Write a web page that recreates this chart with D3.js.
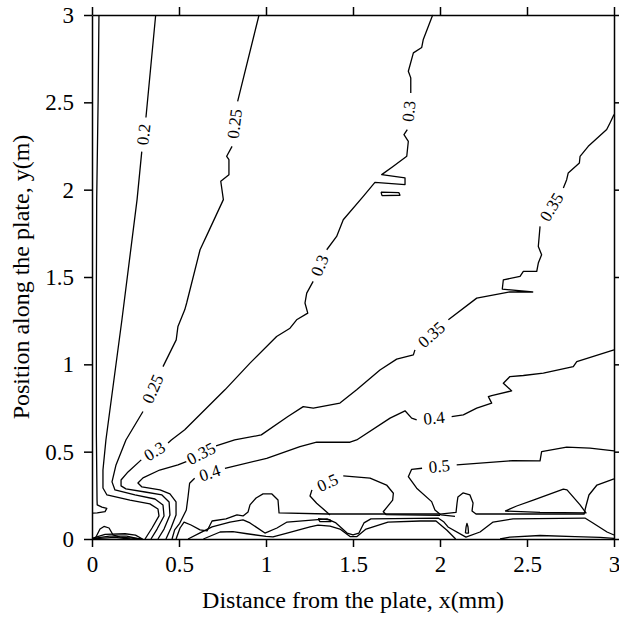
<!DOCTYPE html>
<html>
<head>
<meta charset="utf-8">
<script src="https://cdn.jsdelivr.net/npm/d3@7"></script>
<style>
    body { margin: 0; background: #fff; }
    text { font-family: "Liberation Serif", "Times New Roman", serif; }
</style>
</head>
<body>
<div id="chart"></div>
<script>
// axis ticks
const xTicks = [0, 0.5, 1, 1.5, 2, 2.5, 3];
const yTicks = [0, 0.5, 1, 1.5, 2, 2.5, 3];

// contour lines as [x (mm), y (m)]
// a null marks the gap where the line's label sits
const wallLine = [[0.040,3.0],[0.035,2.5],[0.027,1.95],[0.025,1.4],[0.025,0.6],[0.029,0.22],[0.030,0.195],[0.057,0.183],[0.085,0.175],[0.075,0.157],[0.030,0.150],[0,0.148]];

const c020 = [[0.366,3.0],[0.310,2.413],null,[0.286,2.218],[0.259,1.943],[0.172,1.255],[0.080,0.567],[0.063,0.395],[0.063,0.292],[0.086,0.252],[0.218,0.223],[0.333,0.201],[0.379,0.172],[0.385,0.132],[0.345,0.063],[0.305,0]];

const c025 = [[0.960,3.0],[0.837,2.506],null,[0.805,2.248],[0.774,2.191],[0.787,2.172],[0.787,2.086],[0.740,2.048],[0.755,1.943],[0.667,1.754],[0.621,1.656],[0.544,1.351],[0.533,1.312],[0.494,1.217],[0.484,1.140],[0.408,0.987],null,[0.293,0.730],[0.195,0.567],[0.138,0.424],[0.115,0.327],[0.132,0.281],[0.247,0.252],[0.362,0.229],[0.408,0.195],[0.414,0.132],[0.374,0.057],[0.339,0]];

const c030 = [[1.958,3.0],[1.904,2.860],[1.895,2.814],[1.847,2.783],[1.818,2.678],[1.832,2.640],[1.832,2.554],null,[1.812,2.344],[1.793,2.315],[1.818,2.277],[1.809,2.191],[1.732,2.134],[1.665,2.086],[1.799,2.067],[1.799,2.029],[1.626,2.042],[1.559,1.962],[1.444,1.828],[1.406,1.732],[1.349,1.656],null,[1.271,1.475],[1.234,1.408],[1.224,1.351],[1.240,1.293],[1.176,1.255],[1.138,1.207],[1.061,1.159],[0.908,1.007],[0.764,0.854],[0.533,0.625],[0.456,0.567],[0.437,0.550],null,[0.283,0.453],[0.207,0.384],[0.167,0.338],[0.167,0.304],[0.195,0.287],[0.305,0.269],[0.402,0.252],[0.443,0.212],[0.448,0.138],[0.414,0.057],[0.379,0]];

const c035 = [[3.0,2.430],[2.977,2.382],[2.958,2.344],[2.852,2.248],[2.805,2.191],[2.801,2.153],[2.737,2.096],[2.728,2.057],[2.709,2.010],null,[2.575,1.790],[2.565,1.675],[2.584,1.628],[2.565,1.580],[2.556,1.532],[2.479,1.532],[2.460,1.503],[2.364,1.484],[2.358,1.431],[2.533,1.414],[2.402,1.415],[2.211,1.379],[2.048,1.255],null,[1.856,1.083],[1.847,1.054],[1.751,1.030],[1.655,0.968],[1.521,0.854],[1.425,0.778],[1.272,0.749],[1.214,0.758],[1.126,0.701],[0.973,0.596],[0.820,0.567],[0.713,0.533],null,[0.542,0.443],[0.494,0.424],[0.389,0.395],[0.293,0.350],[0.264,0.321],[0.287,0.298],[0.391,0.281],[0.448,0.258],[0.483,0.212],[0.483,0.138],[0.454,0.063],[0.425,0]];

const c040 = [[3.0,1.083],[2.786,1.016],[2.766,0.987],[2.594,0.950],[2.479,0.936],[2.402,0.930],[2.364,0.892],[2.412,0.848],[2.297,0.821],[2.278,0.815],[2.297,0.778],[2.211,0.749],[2.134,0.711],[2.067,0.701],null,[1.866,0.682],[1.837,0.692],[1.799,0.734],[1.713,0.692],[1.521,0.567],[1.483,0.554],[1.291,0.554],[1.195,0.529],[1.004,0.462],[0.764,0.405],null,[0.590,0.348],[0.561,0.319],[0.552,0.242],[0.542,0.166],[0.504,0.090],[0.475,0.052],[0.460,0]];

const lobeLeft = [[1.368,0.138],[1.291,0.205],[1.253,0.246],[1.264,0.281],null,[1.444,0.361],[1.598,0.348],[1.693,0.309],[1.732,0.262],[1.728,0.223],[1.674,0.156],[1.690,0.140],[2.0,0.135]];

const lobeRight = [[3.0,0.504],[2.862,0.520],[2.728,0.526],[2.584,0.500],[2.575,0.447],[2.421,0.449],[2.096,0.424],null,[1.897,0.405],[1.837,0.399],[1.818,0.357],[1.866,0.291],[1.952,0.214],[1.971,0.166],[2.006,0.138],[2.086,0.129]];

// unlabelled lines near the plate bottom
const bandUpper = [[0.483,0],[0.506,0.063],[0.529,0.097],[0.569,0.080],[0.621,0.052],[0.661,0.046],[0.690,0.103],[0.770,0.115],[0.833,0.138],[0.868,0.132],[0.897,0.155],[0.908,0.195],[0.943,0.235],[0.983,0.258],[1.034,0.258],[1.069,0.223],[1.075,0.149],[1.356,0.143],[2.0,0.143],[2.092,0.152],[2.098,0.206],[2.103,0.241],[2.132,0.264],[2.172,0.252],[2.190,0.206],[2.184,0.160],[2.207,0.143],[2.828,0.143],[2.839,0.189],[2.856,0.252],[2.902,0.309],[3.0,0.344]];

const bandLower = [[0.552,0],[0.621,0.035],[0.690,0.069],[0.793,0.097],[0.868,0.109],[0.908,0.092],[0.994,0.034],[1.063,0.063],[1.121,0.097],[1.351,0.115],[1.402,0.092],[1.466,0.034],[1.5,0.023],[1.534,0.034],[1.563,0.092],[1.603,0.115],[1.989,0.120],[2.023,0.097],[2.046,0.069],[2.149,0.011],[2.230,0.040],[2.305,0.097],[2.420,0.115],[2.833,0.120],[2.879,0.092],[2.960,0.040],[3.0,0.023]];

const bandValley = [[0.64,0],[0.736,0.040],[0.810,0.042],[0.891,0.030],[1.0,0.015],[1.040,0.012],[1.121,0.034],[1.253,0.069],[1.299,0.080],[1.368,0.074],[1.425,0.057],[1.483,0.014],[1.523,0.014],[1.575,0.057],[1.701,0.097],[1.885,0.103],[1.977,0.103],[2.04,0.05],[2.09,0]];

const bottomRight = [[2.345,0],[2.402,0.011],[2.575,0.020],[2.776,0.014],[2.920,0.009],[3.0,0.003]];

const hump = [[0.017,0],[0.046,0.057],[0.069,0.072],[0.098,0.063],[0.121,0.023],[0.161,0.011],[0.29,0]];
const wedge1 = [[0,0.004],[0.075,0.026],[0.19,0.030],[0.25,0.022],[0.29,0]];
const wedge2 = [[0,0.002],[0.10,0.017],[0.20,0.017],[0.27,0]];
const wedge3 = [[0,0.001],[0.13,0.009],[0.22,0]];

// small closed loops
const triangleLoop = [[2.374,0.160],[2.441,0.189],[2.536,0.223],[2.709,0.285],[2.730,0.281],[2.805,0.195],[2.839,0.149],[2.575,0.152],[2.374,0.160]];
const teardrop = [[2.146,0.034],[2.150,0.069],[2.155,0.089],[2.161,0.069],[2.164,0.034],[2.146,0.034]];
const sliver = [[1.299,0.117],[1.368,0.109],[1.374,0.100],[1.310,0.100],[1.299,0.117]];
const island = [[1.661,1.986],[1.764,1.983],[1.770,1.968],[1.667,1.966],[1.661,1.986]];

const contours = [
    {label: "0.2", points: c020},
    {label: "0.25", points: c025},
    {label: "0.3", points: c030},
    {label: "0.35", points: c035},
    {label: "0.4", points: c040},
    {label: "0.5", points: lobeLeft},
    {label: "0.5", points: lobeRight},
    {label: null, points: wallLine},
    {label: null, points: bandUpper},
    {label: null, points: bandLower},
    {label: null, points: bandValley},
    {label: null, points: bottomRight},
    {label: null, points: hump},
    {label: null, points: wedge1},
    {label: null, points: wedge2},
    {label: null, points: wedge3},
    {label: null, points: triangleLoop},
    {label: null, points: teardrop},
    {label: null, points: sliver},
    {label: null, points: island}
];

function drawChart() {
    const width = 619, height = 620;
    const left = 92, right = 614, top = 15, bottom = 539;

    const svg = d3.select("#chart")
        .append("svg")
        .attr("width", width)
        .attr("height", height);

    const x = d3.scaleLinear().domain([0, 3]).range([left, right]);
    const y = d3.scaleLinear().domain([0, 3]).range([bottom, top]);

    const line = d3.line()
        .defined(d => d !== null)
        .x(d => x(d[0]))
        .y(d => y(d[1]));

    // contour lines
    svg.append("g")
        .selectAll("path")
        .data(contours)
        .join("path")
        .attr("d", d => line(d.points))
        .attr("fill", "none")
        .attr("stroke", "#000")
        .attr("stroke-width", 1.3)
        .attr("stroke-linejoin", "round");

    // labels go in the gaps, turned along the line
    const labels = [];
    contours.forEach(c => {
        if (!c.label) return;
        c.points.forEach((p, i) => {
            if (p !== null) return;
            const a = c.points[i - 1], b = c.points[i + 1];
            const ax = x(a[0]), ay = y(a[1]), bx = x(b[0]), by = y(b[1]);
            let ang = Math.atan2(by - ay, bx - ax) * 180 / Math.PI;
            if (ang > 90) ang -= 180;
            if (ang <= -90) ang += 180;
            labels.push({text: c.label, cx: (ax + bx) / 2, cy: (ay + by) / 2, ang: ang});
        });
    });

    svg.append("g")
        .selectAll("text")
        .data(labels)
        .join("text")
        .attr("transform", d => `translate(${d.cx},${d.cy}) rotate(${d.ang})`)
        .attr("text-anchor", "middle")
        .attr("dominant-baseline", "central")
        .attr("font-size", 17)
        .text(d => d.text);

    // axes on all four sides, ticks pointing out
    const fmt = d => String(d);
    svg.append("g")
        .attr("transform", `translate(0,${bottom})`)
        .call(d3.axisBottom(x).tickValues(xTicks).tickFormat(fmt).tickSize(8).tickPadding(9).tickSizeOuter(0));
    svg.append("g")
        .attr("transform", `translate(0,${top})`)
        .call(d3.axisTop(x).tickValues(xTicks).tickFormat("").tickSize(8).tickSizeOuter(0));
    svg.append("g")
        .attr("transform", `translate(${left},0)`)
        .call(d3.axisLeft(y).tickValues(yTicks).tickFormat(fmt).tickSize(8).tickPadding(10).tickSizeOuter(0));
    svg.append("g")
        .attr("transform", `translate(${right},0)`)
        .call(d3.axisRight(y).tickValues(yTicks).tickFormat("").tickSize(8).tickSizeOuter(0));

    svg.selectAll(".domain, .tick line")
        .attr("stroke", "#000")
        .attr("stroke-width", 1.5);
    svg.selectAll(".tick text")
        .attr("font-family", "'Liberation Serif', 'Times New Roman', serif")
        .attr("font-size", 23)
        .attr("fill", "#000");

    // axis titles
    svg.append("text")
        .attr("x", (left + right) / 2)
        .attr("y", 608)
        .attr("text-anchor", "middle")
        .attr("font-size", 24)
        .text("Distance from the plate, x(mm)");

    svg.append("text")
        .attr("transform", `translate(29,${(top + bottom) / 2}) rotate(-90)`)
        .attr("text-anchor", "middle")
        .attr("font-size", 24)
        .text("Position along the plate, y(m)");
}

drawChart();
</script>
</body>
</html>
